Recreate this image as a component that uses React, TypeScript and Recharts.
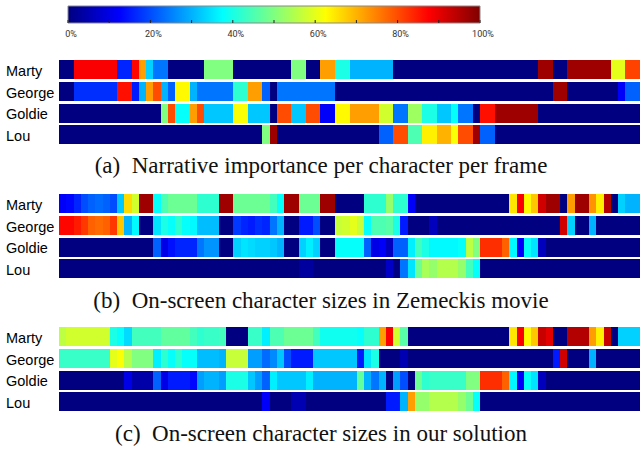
import React from 'react';
import { BarChart, Bar, XAxis, YAxis, Cell } from 'recharts';

// Each row is a run-length list: [importance in %, number of frames]
type Run = [number, number];

const CHARACTERS = ['Marty', 'George', 'Goldie', 'Lou'];
const FRAME_COUNT = 80;

// (a) narrative importance
const aMarty: Run[] = [[0,2],[88,6],[16,2],[87,1],[72,1],[33,1],[24,2],[0,5],[50,4],[0,8],[50,2],[0,2],[72,2],[40,2],[30,6],[0,20],[97,2],[0,2],[97,6],[60,2],[81,2]];
const aGeorge: Run[] = [[0,2],[17,6],[86,2],[15,1],[30,1],[72,1],[80,1],[30,1],[22,1],[63,2],[30,1],[24,5],[42,2],[72,2],[22,1],[0,1],[24,8],[0,30],[97,2],[0,7],[12,1],[22,2]];
const aGoldie: Run[] = [[0,14],[50,1],[80,1],[38,2],[72,1],[80,1],[32,4],[62,2],[32,3],[0,1],[80,2],[32,2],[80,2],[12,2],[63,2],[72,4],[58,2],[24,2],[53,2],[40,2],[32,2],[38,1],[24,2],[0,1],[86,2],[97,6],[0,14]];
const aLou: Run[] = [[0,28],[50,1],[97,1],[0,14],[22,2],[80,2],[45,2],[64,2],[70,2],[62,1],[80,2],[97,1],[22,2],[0,20]];

// (b) on-screen sizes, Zemeckis movie
const bMarty: Run[] = [[12,1],[13,1],[16,1],[20,1],[22,1],[23,1],[22,1],[20,1],[32,1],[66,1],[58,1],[97,2],[38,1],[45,1],[48,4],[42,3],[97,2],[48,5],[44,1],[38,1],[97,2],[48,3],[97,2],[0,4],[42,3],[52,1],[42,2],[12,1],[0,13],[65,1],[88,1],[63,1],[68,1],[92,1],[97,2],[0,1],[72,1],[97,2],[73,1],[64,1],[95,1],[0,1],[33,1],[30,2]];
const bGeorge: Run[] = [[87,2],[85,1],[82,1],[78,1],[77,1],[78,1],[82,1],[68,1],[30,1],[37,1],[0,2],[35,1],[40,1],[38,1],[42,1],[38,1],[37,1],[31,3],[0,2],[18,1],[16,1],[15,1],[17,1],[16,1],[24,1],[30,1],[0,2],[15,2],[20,1],[0,2],[57,1],[58,1],[60,1],[57,1],[38,1],[45,2],[46,1],[40,1],[15,1],[0,3],[6,1],[0,17],[92,1],[33,1],[0,2],[30,1],[0,6]];
const bGoldie: Run[] = [[0,13],[22,1],[10,1],[14,1],[16,3],[24,1],[27,2],[0,2],[33,1],[35,1],[34,1],[33,2],[32,1],[30,1],[0,2],[33,1],[36,1],[33,1],[0,2],[38,4],[22,1],[10,1],[12,1],[6,1],[22,2],[36,1],[44,1],[40,1],[37,4],[38,1],[56,1],[50,1],[83,3],[78,1],[37,1],[12,1],[38,1],[35,1],[6,1],[0,13]];
const bLou: Run[] = [[0,33],[3,2],[0,10],[7,1],[0,1],[24,1],[35,1],[48,1],[54,1],[52,1],[55,3],[52,1],[44,1],[38,1],[0,22]];

// (c) on-screen sizes, our solution
const cMarty: Run[] = [[56,1],[58,6],[40,1],[38,1],[34,1],[44,4],[47,4],[44,1],[42,1],[43,2],[44,1],[0,3],[43,2],[36,1],[45,2],[48,4],[44,1],[39,5],[38,1],[42,2],[72,1],[88,1],[58,1],[46,1],[0,14],[65,1],[88,1],[63,1],[68,1],[93,1],[90,1],[0,2],[95,3],[72,1],[64,1],[93,1],[0,1],[33,3]];
const cGeorge: Run[] = [[43,7],[60,1],[62,1],[55,1],[50,3],[36,1],[42,1],[38,1],[42,1],[38,2],[31,3],[30,1],[57,3],[28,2],[23,1],[26,1],[32,1],[20,1],[15,3],[32,6],[15,1],[35,1],[40,1],[0,3],[5,1],[0,20],[15,1],[92,1],[0,3],[30,1],[0,6]];
const cGoldie: Run[] = [[0,9],[10,1],[4,3],[22,1],[10,1],[15,3],[13,1],[28,1],[30,2],[28,1],[40,3],[32,1],[28,1],[22,1],[36,1],[32,4],[36,1],[30,6],[47,1],[30,1],[24,1],[30,1],[0,1],[28,1],[20,1],[0,1],[48,1],[42,1],[43,5],[50,2],[83,3],[78,1],[37,1],[12,1],[38,1],[35,1],[6,1],[0,13]];
const cLou: Run[] = [[0,28],[12,1],[0,3],[5,2],[0,11],[15,2],[30,1],[72,1],[52,2],[55,4],[52,1],[48,1],[38,1],[0,22]];

const CAPTIONS = [
  '(a)\u2002Narrative importance per character per frame',
  '(b)\u2002On-screen character sizes in Zemeckis movie',
  '(c)\u2002On-screen character sizes in our solution',
];

const SCALE_TICKS = [0, 10, 20, 30, 40, 50, 60, 70, 80, 90, 100];
const JET_STOPS = [0, 12.5, 37.5, 62.5, 87.5, 100];

// matlab style jet colormap, v in 0..100
const jet = (v: number) => {
  const t = v / 100;
  const ch = (c: number) => Math.round(255 * Math.max(0, Math.min(1, 1.5 - Math.abs(4 * t - c))));
  return `rgb(${ch(3)},${ch(2)},${ch(1)})`;
};

const buildRows = (rows: Run[][]) => {
  const segs = Math.max(...rows.map((r) => r.length));
  const data = CHARACTERS.map((name, i) => {
    const d: Record<string, any> = { name };
    rows[i].forEach(([, n], k) => {
      d[`s${k}`] = n;
    });
    return d;
  });
  return { data, segs };
};

const NameTick = (props: any) => {
  const { y, payload } = props;
  return (
    <text x={6} y={y} dy={6} textAnchor="start" fontFamily="'Liberation Sans', Arial, sans-serif" fontSize={14.5} fill="#000">
      {payload.value}
    </text>
  );
};

const Panel = ({ rows, top }: { rows: Run[][]; top: number }) => {
  const { data, segs } = buildRows(rows);
  return (
    <div style={{ position: 'absolute', left: 0, top, shapeRendering: 'crispEdges' }}>
      <BarChart width={640} height={87} data={data} layout="vertical" margin={{ top: 0, right: 0, bottom: 0, left: 0 }}>
        <XAxis type="number" domain={[0, FRAME_COUNT]} hide />
        <YAxis type="category" dataKey="name" width={59} interval={0} axisLine={false} tickLine={false} tick={<NameTick />} />
        {Array.from({ length: segs }, (_, k) => (
          <Bar key={k} dataKey={`s${k}`} stackId="row" barSize={19} isAnimationActive={false}>
            {rows.map((r, i) => (
              <Cell key={i} fill={r[k] ? jet(r[k][0]) : 'none'} />
            ))}
          </Bar>
        ))}
      </BarChart>
    </div>
  );
};

const ScaleTick = (props: any) => {
  const { x, y, payload } = props;
  return (
    <g>
      <line x1={x} x2={x} y1={y - 3} y2={y} stroke="#222" strokeWidth={1} />
      {payload.value % 20 === 0 && (
        <text x={x + 3} y={y + 14} textAnchor="middle" fontFamily="Roboto, sans-serif" fontSize={9} fill="#333">
          {`${payload.value}%`}
        </text>
      )}
    </g>
  );
};

const ColorScale = () => (
  <div style={{ position: 'absolute', left: 0, top: 0 }}>
    <BarChart width={640} height={45} data={[{ name: 'scale', v: 100 }]} layout="vertical" margin={{ top: 6, right: 160, bottom: 0, left: 68 }} barCategoryGap={0}>
      <defs>
        <linearGradient id="jetScale" x1="0" y1="0" x2="1" y2="0">
          {JET_STOPS.map((s) => (
            <stop key={s} offset={`${s}%`} stopColor={jet(s)} />
          ))}
        </linearGradient>
      </defs>
      <XAxis type="number" domain={[0, 100]} ticks={SCALE_TICKS} interval={0} height={22} axisLine={false} tickLine={false} tickSize={0} tickMargin={0} tick={<ScaleTick />} />
      <YAxis type="category" dataKey="name" hide />
      <Bar dataKey="v" fill="url(#jetScale)" stroke="#888" strokeWidth={1} isAnimationActive={false} />
    </BarChart>
  </div>
);

const Caption = ({ text, baseline }: { text: string; baseline: number }) => (
  <div
    style={{
      position: 'absolute',
      left: 0,
      width: 642,
      top: baseline - 19.3,
      textAlign: 'center',
      fontFamily: "'Liberation Serif', 'Times New Roman', serif",
      fontSize: 23,
      lineHeight: '23px',
      color: '#111',
      whiteSpace: 'nowrap',
    }}
  >
    {text}
  </div>
);

export default function App() {
  return (
    <div style={{ position: 'absolute', left: 0, top: 0, width: 640, height: 449, background: '#fff', overflow: 'hidden' }}>
      <ColorScale />
      <Panel rows={[aMarty, aGeorge, aGoldie, aLou]} top={58.6} />
      <Caption text={CAPTIONS[0]} baseline={173.3} />
      <Panel rows={[bMarty, bGeorge, bGoldie, bLou]} top={192.6} />
      <Caption text={CAPTIONS[1]} baseline={308} />
      <Panel rows={[cMarty, cGeorge, cGoldie, cLou]} top={325.6} />
      <Caption text={CAPTIONS[2]} baseline={441.5} />
    </div>
  );
}
